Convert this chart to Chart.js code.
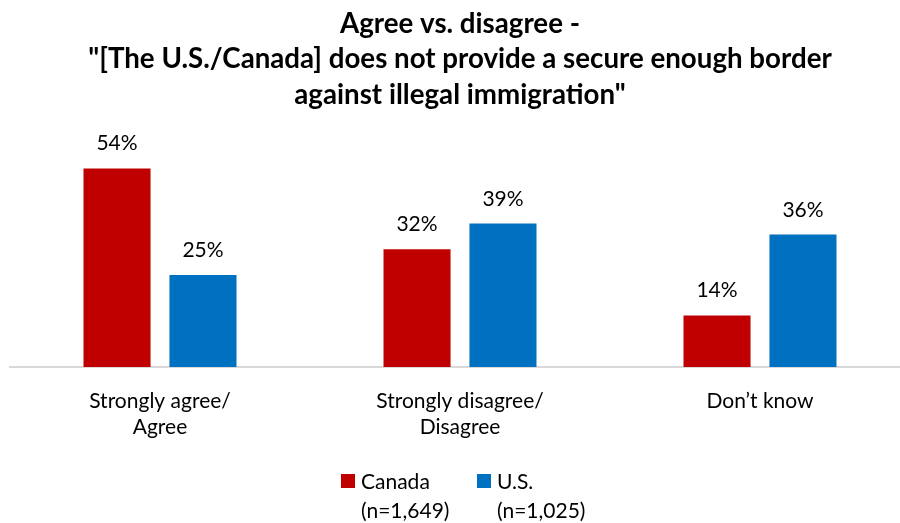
<!DOCTYPE html>
<html lang="en">
<head>
    <meta charset="UTF-8">
    <title>Agree vs. disagree - border security</title>
    <script src="https://cdn.jsdelivr.net/npm/chart.js@4.4.3/dist/chart.umd.min.js"></script>
    <style>
        body { margin: 0; background: #fff; overflow: hidden; }
    </style>
</head>
<body>
    <canvas id="chart" width="910" height="523"></canvas>
    <script>
        // values
        const categories = [['Strongly agree/', 'Agree'], ['Strongly disagree/', 'Disagree'], ['Don\u2019t know']];
        const canadaValues = [54, 32, 14];
        const usValues = [25, 39, 36];
        const seriesNames = ['Canada', 'U.S.'];
        const sampleSizes = ['(n=1,649)', '(n=1,025)'];
        const titleLines = [
            'Agree vs. disagree -',
            '"[The U.S./Canada] does not provide a secure enough border',
            'against illegal immigration"'
        ];

        const FONT = 'Lato, "Open Sans", sans-serif';
        const colors = ['#c00000', '#0070c0'];

        // percent labels above each bar
        const valueLabels = {
            id: 'valueLabels',
            afterDatasetsDraw(chart) {
                const ctx = chart.ctx;
                ctx.save();
                ctx.font = '21px ' + FONT;
                ctx.fillStyle = '#000';
                ctx.textAlign = 'center';
                ctx.textBaseline = 'alphabetic';
                chart.data.datasets.forEach((ds, i) => {
                    chart.getDatasetMeta(i).data.forEach((bar, j) => {
                        ctx.fillText(ds.data[j] + '%', bar.x, bar.y - 18);
                    });
                });
                ctx.restore();
            }
        };

        // two-line legend under the chart
        const twoLineLegend = {
            id: 'twoLineLegend',
            afterDraw(chart) {
                const ctx = chart.ctx;
                const starts = [341, 477];
                ctx.save();
                ctx.font = '21px ' + FONT;
                ctx.textBaseline = 'middle';
                ctx.textAlign = 'left';
                seriesNames.forEach((name, i) => {
                    ctx.fillStyle = colors[i];
                    ctx.fillRect(starts[i], 474, 14, 14);
                    ctx.fillStyle = '#000';
                    ctx.fillText(name, starts[i] + 20, 482);
                    ctx.fillText(sampleSizes[i], starts[i] + 20, 511);
                });
                ctx.restore();
            }
        };

        new Chart(document.getElementById('chart'), {
            type: 'bar',
            data: {
                labels: categories,
                datasets: [
                    { label: seriesNames[0], data: canadaValues, backgroundColor: colors[0] },
                    { label: seriesNames[1], data: usValues, backgroundColor: colors[1] }
                ]
            },
            options: {
                responsive: false,
                animation: false,
                barPercentage: 0.78,
                categoryPercentage: 0.573,
                layout: { padding: { left: 10, right: 0, top: 0, bottom: 70 } },
                plugins: {
                    legend: { display: false },
                    tooltip: { enabled: false },
                    title: {
                        display: true,
                        text: titleLines,
                        color: '#000',
                        font: { family: FONT, size: 27.7, weight: 'bold', lineHeight: 1.28 },
                        padding: { top: 6, bottom: 34 }
                    }
                },
                scales: {
                    x: {
                        grid: { display: false },
                        border: { display: true, color: '#d9d9d9', width: 2 },
                        ticks: {
                            color: '#000',
                            font: { family: FONT, size: 21, lineHeight: 1.24 },
                            padding: 13,
                            maxRotation: 0
                        }
                    },
                    y: {
                        display: false,
                        min: 0,
                        max: 60
                    }
                }
            },
            plugins: [valueLabels, twoLineLegend]
        });
    </script>
</body>
</html>
